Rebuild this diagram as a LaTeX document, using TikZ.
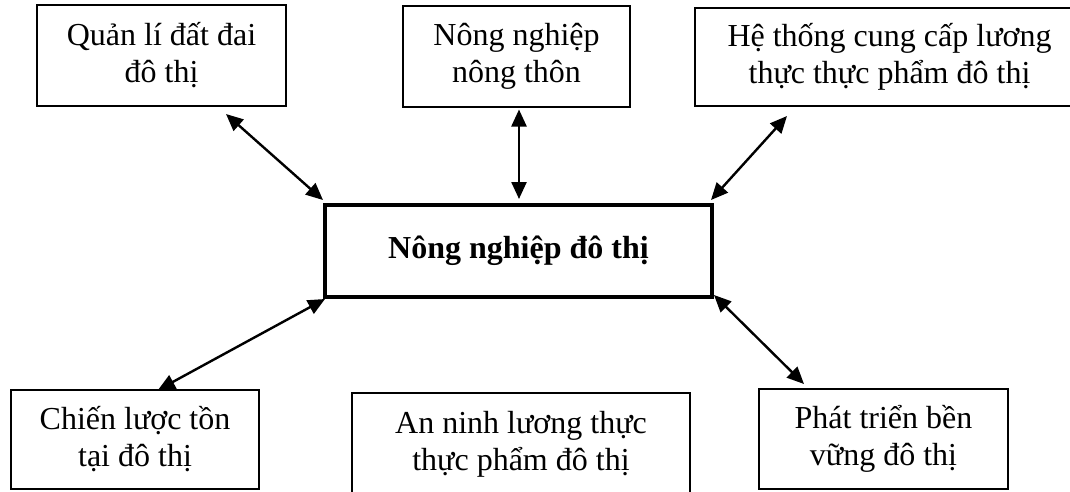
\documentclass[tikz,border=0pt]{standalone}
\usepackage{fontspec}
\setmainfont{Liberation Serif}
\usetikzlibrary{arrows.meta,calc}
\tikzset{
  box/.style={draw=black, line width=1.6pt, inner sep=0pt, outer sep=0pt, align=center,
    font=\fontsize{32}{37}\selectfont},
  mainbox/.style={box, line width=3.8pt, font=\fontsize{32}{37}\selectfont\bfseries},
  link/.style={line width=2.4pt, {Triangle[length=17pt,width=15pt]}-{Triangle[length=17pt,width=15pt]}}
}
\begin{document}
\begin{tikzpicture}[x=1pt,y=-1pt]
\useasboundingbox (0,0) rectangle (1070,491);
\node[box, minimum width=249pt, minimum height=101pt] (q) at (161.5,55.5) {Quản lí đất đai\\đô thị};
\node[box, minimum width=227pt, minimum height=101pt] (nn) at (516.5,56.5) {Nông nghiệp\\nông thôn};
\node[box, minimum width=389pt, minimum height=98pt] (ht) at (889.5,57) {Hệ thống cung cấp lương\\thực thực phẩm đô thị};
\node[mainbox, minimum width=387pt, minimum height=92pt] (c) at (518.5,251) {Nông nghiệp đô thị};
\node[box, minimum width=248pt, minimum height=99pt] (cl) at (135,439.5) {Chiến lược tồn\\tại đô thị};
\node[box, minimum width=338pt, minimum height=102pt] (an) at (521,444) {An ninh lương thực\\thực phẩm đô thị};
\node[box, minimum width=249pt, minimum height=100pt] (pt) at (883.5,439) {Phát triển bền\\vững đô thị};
\draw[link] ($(q.south east)+(-60,8)$) -- ($(c.north west)+(-2,-5)$);
\draw[link] ($(nn.south)+(2.5,2.5)$) -- ($(c.north)+(0.5,-6)$);
\draw[link] ($(ht.south west)+(92,10)$) -- ($(c.north east)+(-1,-5)$);
\draw[link] ($(c.south west)+(0,2)$) -- ($(cl.north)+(23,0)$);
\draw[link] ($(c.south east)+(2,-2)$) -- ($(pt.north)+(-79.5,-5)$);
\end{tikzpicture}
\end{document}
